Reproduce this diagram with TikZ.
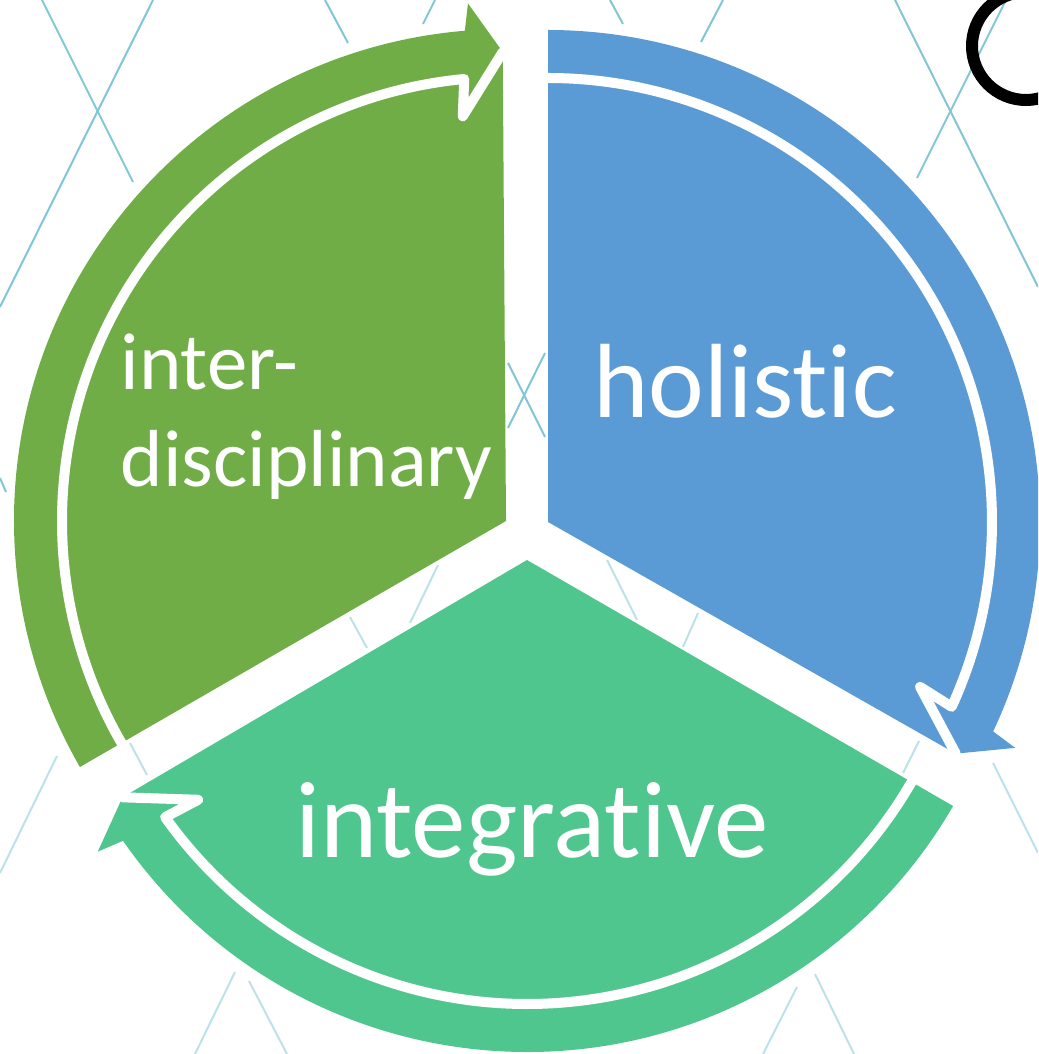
\documentclass[tikz,border=0pt]{standalone}
\usepackage{fontspec}
\setmainfont{Carlito}[Ligatures=NoCommon]
\usepackage{tikz}
\definecolor{segolive}{RGB}{112,173,71}
\definecolor{segblue}{RGB}{91,155,213}
\definecolor{segteal}{RGB}{80,198,143}
\definecolor{patline}{RGB}{128,198,212}
\definecolor{patpale}{RGB}{188,225,233}
\newcommand{\cyclepart}[4]{% apex, start angle, end angle, colour
  \begin{scope}[shift={(#1)}]
    \fill[#4] (0,0) -- (#2:444) arc[start angle=#2, end angle=#3+5.4, radius=444] -- (#3+0.4:469) -- cycle;
    \fill[#4] (#2:444) arc[start angle=#2, end angle=#3+5.4, radius=444] -- (#3+6.1:407) -- (#3+0.4:469)
      -- (#3+4.2:519) -- (#3+4.8:492) arc[start angle=#3+4.8, end angle=#2, radius=492] -- cycle;
    \draw[seam] (#2:444) arc[start angle=#2, end angle=#3+5.4, radius=444] -- (#3+6.1:407) -- (#3+0.4:469);
  \end{scope}}

\begin{document}
\begin{tikzpicture}[
    x=0.01cm, y=0.01cm,
    seam/.style={white, line width=1mm, line join=round, line cap=round},
    pat/.style={patline, line width=0.2mm},
    patlight/.style={patpale, line width=0.2mm},
    lbl/.style={white, inner sep=0pt}
]
    \useasboundingbox (0,0) rectangle (1038,1054);
    \clip (0,0) rectangle (1038,1054);
    % Background pattern
    \draw[pat] (42,1054) -- (133,872);
    \draw[pat] (153,1054) -- (0,747);
    \draw[pat] (325,1054) -- (348,1011);
    \draw[pat] (435,1054) -- (423,1030);
    \draw[pat] (610,1054) -- (623,1030);
    \draw[pat] (723,1054) -- (701,1012);
    \draw[pat] (895,1054) -- (1038,767);
    \draw[pat] (1006,1054) -- (917,876);
    \draw[pat] (0,576) -- (6,562);
    \draw[pat] (508,691) -- (545,617);
    \draw[pat] (545,701) -- (508,626);
    \draw[patlight] (57,298) -- (0,181);
    \draw[patlight] (130,311) -- (147,279);
    \draw[patlight] (235,82) -- (195,0);
    \draw[patlight] (249,73) -- (287,0);
    \draw[patlight] (919,313) -- (903,281);
    \draw[patlight] (993,291) -- (1038,201);
    \draw[patlight] (797,67) -- (763,0);
    \draw[patlight] (815,80) -- (854,0);
    \draw[patlight] (438,489) -- (410,431);
    \draw[patlight] (350,437) -- (367,406);
    \draw[patlight] (607,494) -- (637,434);
    \draw[patlight] (698,441) -- (683,407);

    % Segments
    \coordinate (apexolive) at (506,533);
    \coordinate (apexblue) at (548,532);
    \coordinate (apexteal) at (527,494);
    \cyclepart{apexolive}{210}{90}{segolive}
    \cyclepart{apexblue}{90}{-30}{segblue}
    \cyclepart{apexteal}{-30}{-150}{segteal}

    % Ring in the corner
    \draw[line width=1.2mm] (1026,1008) circle[radius=54];

    % Labels
    \node[lbl, font=\fontsize{30}{36}\selectfont, anchor=base] (holistic) at (745,636) {holistic};
    \node[lbl, font=\fontsize{31}{37}\selectfont, anchor=base] (integrative) at (532,196) {integrative};
    \node[lbl, font=\fontsize{23}{28}\selectfont, anchor=base west] (inter) at (120,664) {inter-};
    \node[lbl, font=\fontsize{23}{28}\selectfont, anchor=base west] (disc) at (120,567) {disciplinary};
\end{tikzpicture}
\end{document}
